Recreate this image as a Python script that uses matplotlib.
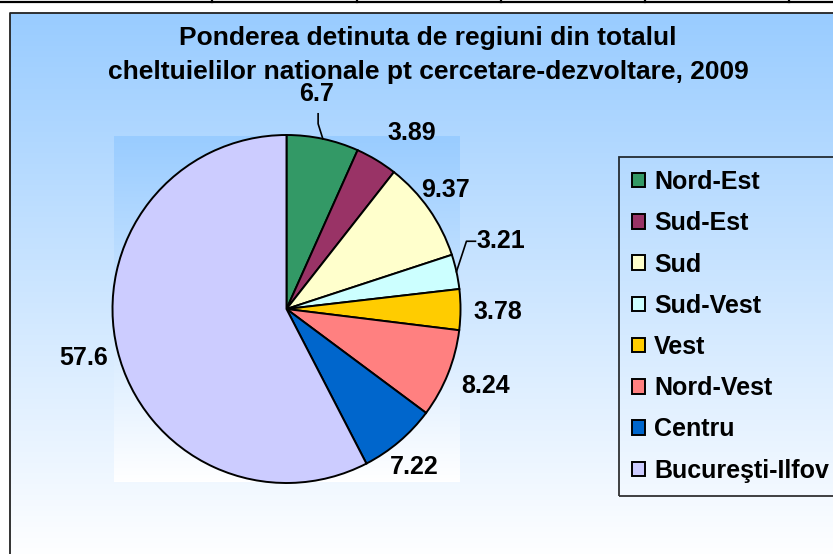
import numpy as np
import matplotlib
matplotlib.use("Agg")
import matplotlib.pyplot as plt

plt.rcParams['font.family'] = ['Liberation Sans', 'DejaVu Sans']
plt.rcParams['font.weight'] = 'bold'

regions = ['Nord-Est', 'Sud-Est', 'Sud', 'Sud-Vest', 'Vest', 'Nord-Vest', 'Centru', 'Bucureşti-Ilfov']
shares = [6.7, 3.89, 9.37, 3.21, 3.78, 8.24, 7.22, 57.6]
share_labels = ['6.7', '3.89', '9.37', '3.21', '3.78', '8.24', '7.22', '57.6']
colors = ['#339966', '#993366', '#FFFFCC', '#CCFFFF', '#FFCC00', '#FF8080', '#0066CC', '#CCCCFF']
title = 'Ponderea detinuta de regiuni din totalul\ncheltuielilor nationale pt cercetare-dezvoltare, 2009'

W, H = 833, 554
fig = plt.figure(figsize=(W / 100, H / 100), dpi=100)
fig.patch.set_facecolor('white')

# background axes in pixel coordinates
bg = fig.add_axes([0, 0, 1, 1])
bg.set_xlim(0, W)
bg.set_ylim(H, 0)
bg.axis('off')


def gradient():
    t = np.linspace(0, 1, 256)[:, None]
    top = np.array([153, 204, 255]) / 255
    bot = np.array([1.0, 1.0, 1.0])
    return (top * (1 - t) + bot * t)[:, None, :].repeat(2, axis=1)


bg.imshow(gradient(), extent=(10, 900, 560, 13), aspect='auto', zorder=0)
bg.imshow(gradient(), extent=(114, 460, 482, 136), aspect='auto', zorder=1)
bg.plot([10, 10, 900], [560, 13, 13], color='#222222', lw=1.3, zorder=2)
# table rule from the sheet above the chart
bg.plot([0, W], [2, 2], color='black', lw=1.6)
for x in [212, 357, 501, 645, 789]:
    bg.plot([x, x], [0, 2], color='black', lw=1.6)
bg.set_xlim(0, W)
bg.set_ylim(H, 0)

fig.text(428 / W, 1 - 55 / H, title, ha='center', va='center', fontsize=19,
         fontweight='bold', linespacing=1.55)

# pie: center (286.5, 309) px, radius 174 px
R = 174
ax = fig.add_axes([(286.5 - R) / W, (H - 309 - R) / H, 2 * R / W, 2 * R / H])
wedges, texts = ax.pie(shares, colors=colors, startangle=90, counterclock=False,
                       labels=share_labels, labeldistance=1.2,
                       wedgeprops=dict(edgecolor='black', linewidth=1.4),
                       textprops=dict(fontsize=18, fontweight='bold'))
ax.set_xlim(-1, 1)
ax.set_ylim(-1, 1)
ax.axis('off')

# nudge labels (px, y down) like Excel's best fit placement
nudges = [(-14, -11), (17, 3), (-12, 1), (10, -23), (3, 2), (5, -1), (-7, -1), (0, 0)]
for t, (dx, dy) in zip(texts, nudges):
    x, y = t.get_position()
    t.set_position((x + dx / R, y - dy / R))
    t.set_ha('center')
    t.set_va('center')
    t.set_clip_on(False)

# leader lines for the two moved labels
for i, pts in [(0, [(2, 20), (2, 30)]), (3, [(-25, 0), (-34, 0)])]:
    w = wedges[i]
    ang = np.deg2rad((w.theta1 + w.theta2) / 2)
    ex, ey = np.cos(ang), np.sin(ang)
    tx, ty = texts[i].get_position()
    xs = [tx + p[0] / R for p in pts] + [ex]
    ys = [ty - p[1] / R for p in pts] + [ey]
    ax.plot(xs, ys, color='black', lw=1.2, clip_on=False)

leg = ax.legend(wedges, regions, loc='upper left', bbox_to_anchor=(619 / W, 1 - 157 / H),
                bbox_transform=fig.transFigure, borderaxespad=0, prop=dict(size=18, weight='bold'),
                handlelength=0.52, handleheight=0.52, handletextpad=0.36, borderpad=0.52,
                labelspacing=0.69, fancybox=False, frameon=True)
leg.get_frame().set_facecolor('none')
leg.get_frame().set_edgecolor('black')
leg.get_frame().set_linewidth(1.3)

fig.savefig('out.png', dpi=100)
